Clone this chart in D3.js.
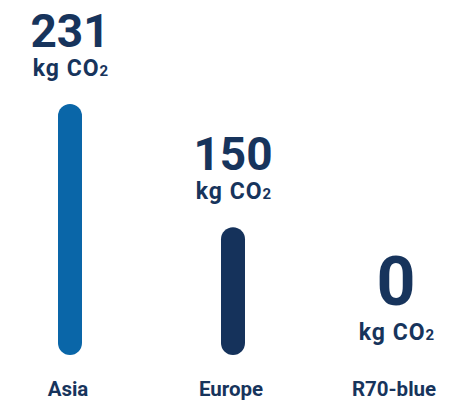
<!DOCTYPE html>
<html>
<head>
<meta charset="utf-8">
<script src="https://cdn.jsdelivr.net/npm/d3@7"></script>
<style>
  html, body { margin: 0; padding: 0; background: #ffffff; }
  svg { display: block; font-family: Roboto, "Noto Sans", sans-serif; }
</style>
</head>
<body>
<svg id="chart" width="468" height="401"></svg>
<script>
const categories = ["Asia", "Europe", "R70-blue"];
const values = [231, 150, 0];
const unitMain = "kg CO";
const unitSub = "2";
const barColors = ["#0a66a8", "#15325b", "#15325b"];
const textColor = "#17345c";

const svg = d3.select("#chart");
const x = d3.scalePoint().domain(categories).range([70, 396]);
const y = d3.scaleLinear().domain([66, 231]).range([355, 104]).clamp(true);
const barW = 24;

const g = svg.selectAll("g.item").data(categories.map((c, i) => ({c, v: values[i], color: barColors[i]})))
  .enter().append("g").attr("class", "item");

g.filter(d => d.v > 0).append("rect")
  .attr("x", d => x(d.c) - barW / 2)
  .attr("y", d => y(d.v))
  .attr("width", barW)
  .attr("height", d => y.range()[0] - y(d.v))
  .attr("rx", barW / 2)
  .attr("fill", d => d.color);

const unitBase = d => d.v === 0 ? 340 : y(d.v) - 28;

const unit = g.append("text")
  .attr("x", d => x(d.c) + 1)
  .attr("y", unitBase)
  .attr("text-anchor", "middle")
  .attr("font-size", 23)
  .attr("letter-spacing", 1)
  .attr("font-weight", 700)
  .attr("fill", textColor);
unit.append("tspan").text(unitMain);
unit.append("tspan").attr("font-size", 15).text(unitSub);

g.append("text")
  .attr("x", d => x(d.c))
  .attr("y", d => unitBase(d) - (d.v === 0 ? 35 : 29))
  .attr("text-anchor", "middle")
  .attr("font-size", d => d.v === 0 ? 68 : 46)
  .attr("font-weight", 700)
  .attr("fill", textColor)
  .text(d => d.v);

g.append("text")
  .attr("x", d => x(d.c) - 2)
  .attr("y", 396)
  .attr("text-anchor", "middle")
  .attr("font-size", 20.5)
  .attr("font-weight", 700)
  .attr("fill", textColor)
  .text(d => d.c);
</script>
</body>
</html>
